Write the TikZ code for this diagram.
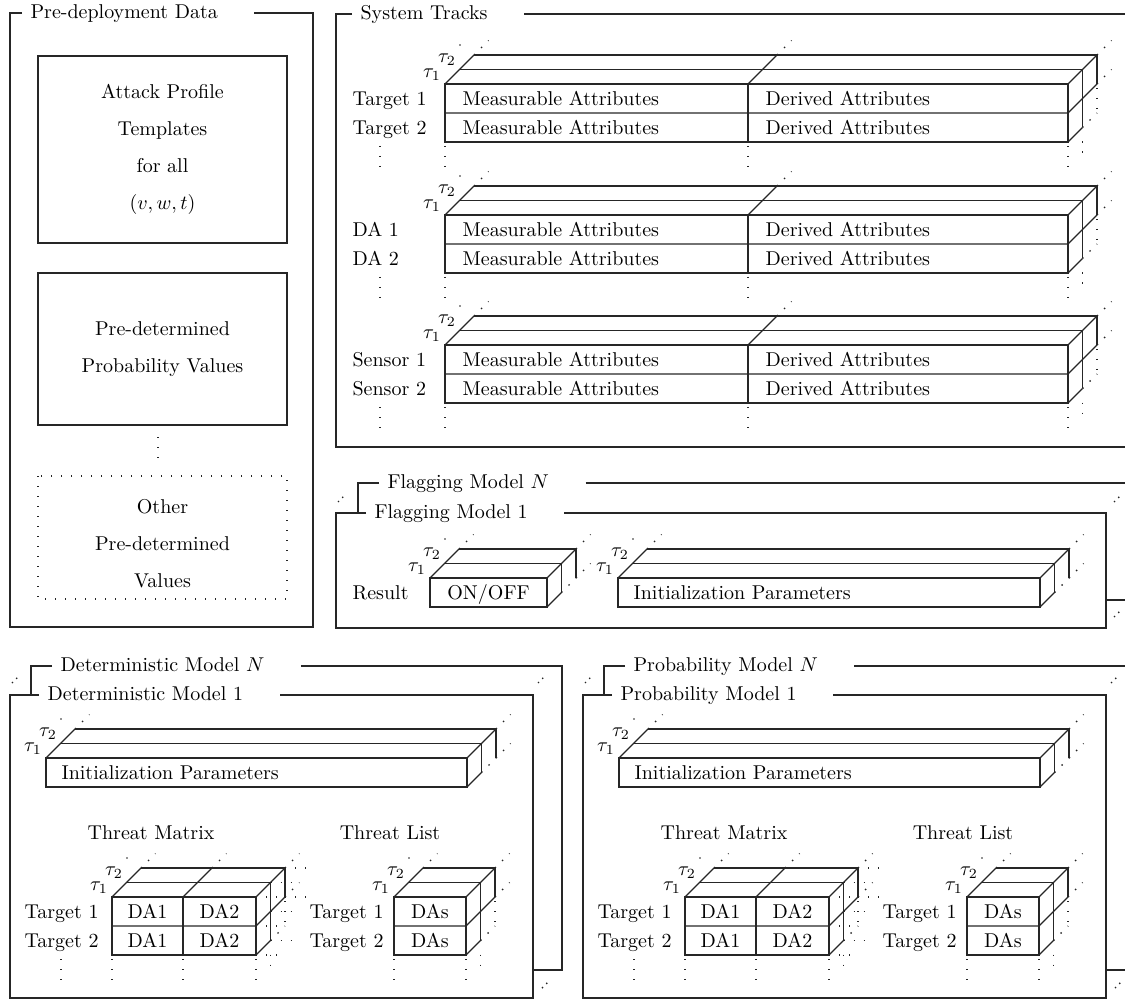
\documentclass[tikz,border=0pt]{standalone}
\colorlet{penColor}{black!85}
\tikzset{
  gap/.style={line width=0.7pt,dash pattern=on 0.7pt off 4.3pt},
  iddots/.style={line width=0.7pt,dash pattern=on 0.7pt off 2.3pt},
  txt/.style={inner sep=0pt,text height=6.9pt,text depth=0pt},
  ttl/.style={anchor=west,inner xsep=4pt,inner ysep=0pt,text height=6.5pt,text depth=1pt},
  tau/.style={inner sep=0pt},
  databox/.style={draw,minimum width=124.5pt,align=center},
}
% #1 name, #2 left, #3 right, #4 top of front face, #5 rows, #6 column edges
\newcommand{\tracktable}[6]{%
  \pgfmathsetmacro{\ybot}{#4+29*#5}
  \draw (#2,#4) rectangle (#3,\ybot);
  \foreach \cx in {#6}{
    \draw (\cx,#4) -- (\cx,\ybot);
    \draw (\cx,#4) -- ++(29,-29);
    \draw[gap] (\cx+29,#4-29) -- ++(14.5,-14.5);
  }
  \draw (#2+14.5,#4-14.5) -- (#3+14.5,#4-14.5) -- (#3+14.5,\ybot-14.5);
  \draw (#2+29,#4-29) -- (#3+29,#4-29) -- (#3+29,#4);
  \draw (#3,\ybot) -- ++(14.5,-14.5);
  \draw[gap] (#3+14.5,\ybot-14.5) -- ++(14.5,-14.5);
  \draw[gap] (#3+29,#4) -- ++(14.5,-14.5);
  \fill (#2+15,#4-39) circle (0.4pt);
  \node[tau] (#1-t1) at (#2-13,#4-9) {$\tau_1$};
  \node[tau] (#1-t2) at (#2+2,#4-24) {$\tau_2$};
  \ifnum#5>1
    \foreach \rw in {2,...,#5}{
      \draw (#2,#4+29*\rw-29) -- (#3,#4+29*\rw-29) -- ++(29,-29);
    }
    \draw[gap] (#3+29,#4+4) -- (#3+29,\ybot-29);
    \draw[gap] (#3+14.5,\ybot-0.5) -- ++(0,12);
    \foreach \cx in {#6}{\draw[gap] (\cx,\ybot+4) -- (\cx,\ybot+26);}
  \fi
}

\begin{document}
\begin{tikzpicture}[x=0.5pt,y=-0.5pt,line width=0.6pt,color=penColor,every node/.style={text=black}]
\useasboundingbox (0,0) rectangle (1125,1000);
\clip (0,0) rectangle (1125,1000);

% pre-deployment data
\node[ttl] (preT) at (22,13) {Pre-deployment Data};
\draw (preT.west) -| (10,627) -| (313,13) -- ([xshift=14pt]preT.east);
\node[databox,minimum height=93.5pt] (apt) at (162.5,149.5) {Attack Profile\\[6.5pt]Templates\\[6.5pt]for all\\[6.5pt]$(v,w,t)$};
\node[databox,minimum height=76pt] (ppv) at (162.5,349) {Pre-determined\\[6.5pt]Probability Values};
\draw[gap] (158,437) -- (158,459);
\draw[gap] (38,476) rectangle (287,599);
\node[align=center] (opv) at (162.5,543.5) {Other\\[6.5pt]Pre-determined\\[6.5pt]Values};

% system tracks
\node[ttl] (sysT) at (352,14) {System Tracks};
\draw (sysT.west) -| (336,447) -- (1140,447);
\draw ([xshift=14pt]sysT.east) -- (1140,14);
\foreach \blk/\yy/\nm in {tgt/84/Target,da/215/DA,sen/345/Sensor}{
  \tracktable{\blk}{445}{1068}{\yy}{2}{445,748,1068}
  \node[txt,anchor=west] (\blk-a) at (352,\yy+14.5) {\nm\ 1};
  \node[txt,anchor=west] (\blk-b) at (352,\yy+43.5) {\nm\ 2};
  \draw[gap] (380,\yy+62) -- (380,\yy+84);
  \node[txt,anchor=west] (\blk-m1) at (462,\yy+14.5) {Measurable Attributes};
  \node[txt,anchor=west] (\blk-m2) at (462,\yy+43.5) {Measurable Attributes};
  \node[txt,anchor=west] (\blk-d1) at (765,\yy+14.5) {Derived Attributes};
  \node[txt,anchor=west] (\blk-d2) at (765,\yy+43.5) {Derived Attributes};
}

% flagging models
\node[ttl] (flgN) at (379,483) {Flagging Model $N$};
\draw (flgN.west) -| (358,513);
\draw ([xshift=14pt]flgN.east) -| (1128,600) -- (1106,600);
\node[ttl] (flg1) at (366,513) {Flagging Model 1};
\draw (flg1.west) -| (336,628) -| (1106,513) -- ([xshift=14pt]flg1.east);
\draw[iddots] (338,502) -- (344,496);
\draw[iddots] (1114,502) -- (1120,496);
\draw[iddots] (1114,617) -- (1120,611);
\tracktable{onoff}{430}{547}{578}{1}{430,547}
\node[txt,anchor=west] (res) at (352,592.5) {Result};
\node[txt] (onoffT) at (488.5,592.5) {ON/OFF};
\tracktable{fip}{618}{1040}{578}{1}{618,1040}
\node[txt,anchor=west] (fipT) at (633,592.5) {Initialization Parameters};

% deterministic and probability models
\foreach \sx/\md/\pre in {0/Deterministic/det,573/Probability/prb}{
\begin{scope}[xshift={\sx*0.5pt}]
  \node[ttl] (\pre-N) at (52,666) {\md\ Model $N$};
  \draw (\pre-N.west) -| (31,695);
  \draw ([xshift=14pt]\pre-N.east) -| (562,970) -- (533,970);
  \node[ttl] (\pre-1) at (39,695) {\md\ Model 1};
  \draw (\pre-1.west) -| (10,998) -| (533,695) -- ([xshift=14pt]\pre-1.east);
  \draw[iddots] (12,683) -- (18,677);
  \draw[iddots] (538,683) -- (544,677);
  \draw[iddots] (542,988) -- (548,982);
  % initialization parameters
  \tracktable{\pre-ip}{46}{467}{758}{1}{46,467}
  \node[txt,anchor=west] (\pre-ipt) at (61,772.5) {Initialization Parameters};
  % threat matrix
  \node[txt] (\pre-tmt) at (151,833) {Threat Matrix};
  \tracktable{\pre-tm}{112}{256}{897}{2}{112,183,256}
  \foreach \dk/\rw in {0/0,0/1,0/2,1/0,1/1,1/2,2/0,2/1}
    \draw[gap] (256+14.5*\dk,897-14.5*\dk+29*\rw) -- ++(22,0);
  \draw[gap] (61,959) -- (61,981);
  % threat list
  \node[txt] (\pre-tlt) at (390,833) {Threat List};
  \tracktable{\pre-tl}{394}{466}{897}{2}{394,466}
  \foreach \yy/\rw in {911.5/1,940.5/2}{
    \node[txt,anchor=west] (\pre-tg\rw) at (24,\yy) {Target \rw};
    \node[txt] (\pre-a\rw) at (147.5,\yy) {DA1};
    \node[txt] (\pre-b\rw) at (219.5,\yy) {DA2};
    \node[txt,anchor=west] (\pre-tl\rw) at (309,\yy) {Target \rw};
    \node[txt] (\pre-s\rw) at (430,\yy) {DAs};
  }
\end{scope}}
\end{tikzpicture}
\end{document}
